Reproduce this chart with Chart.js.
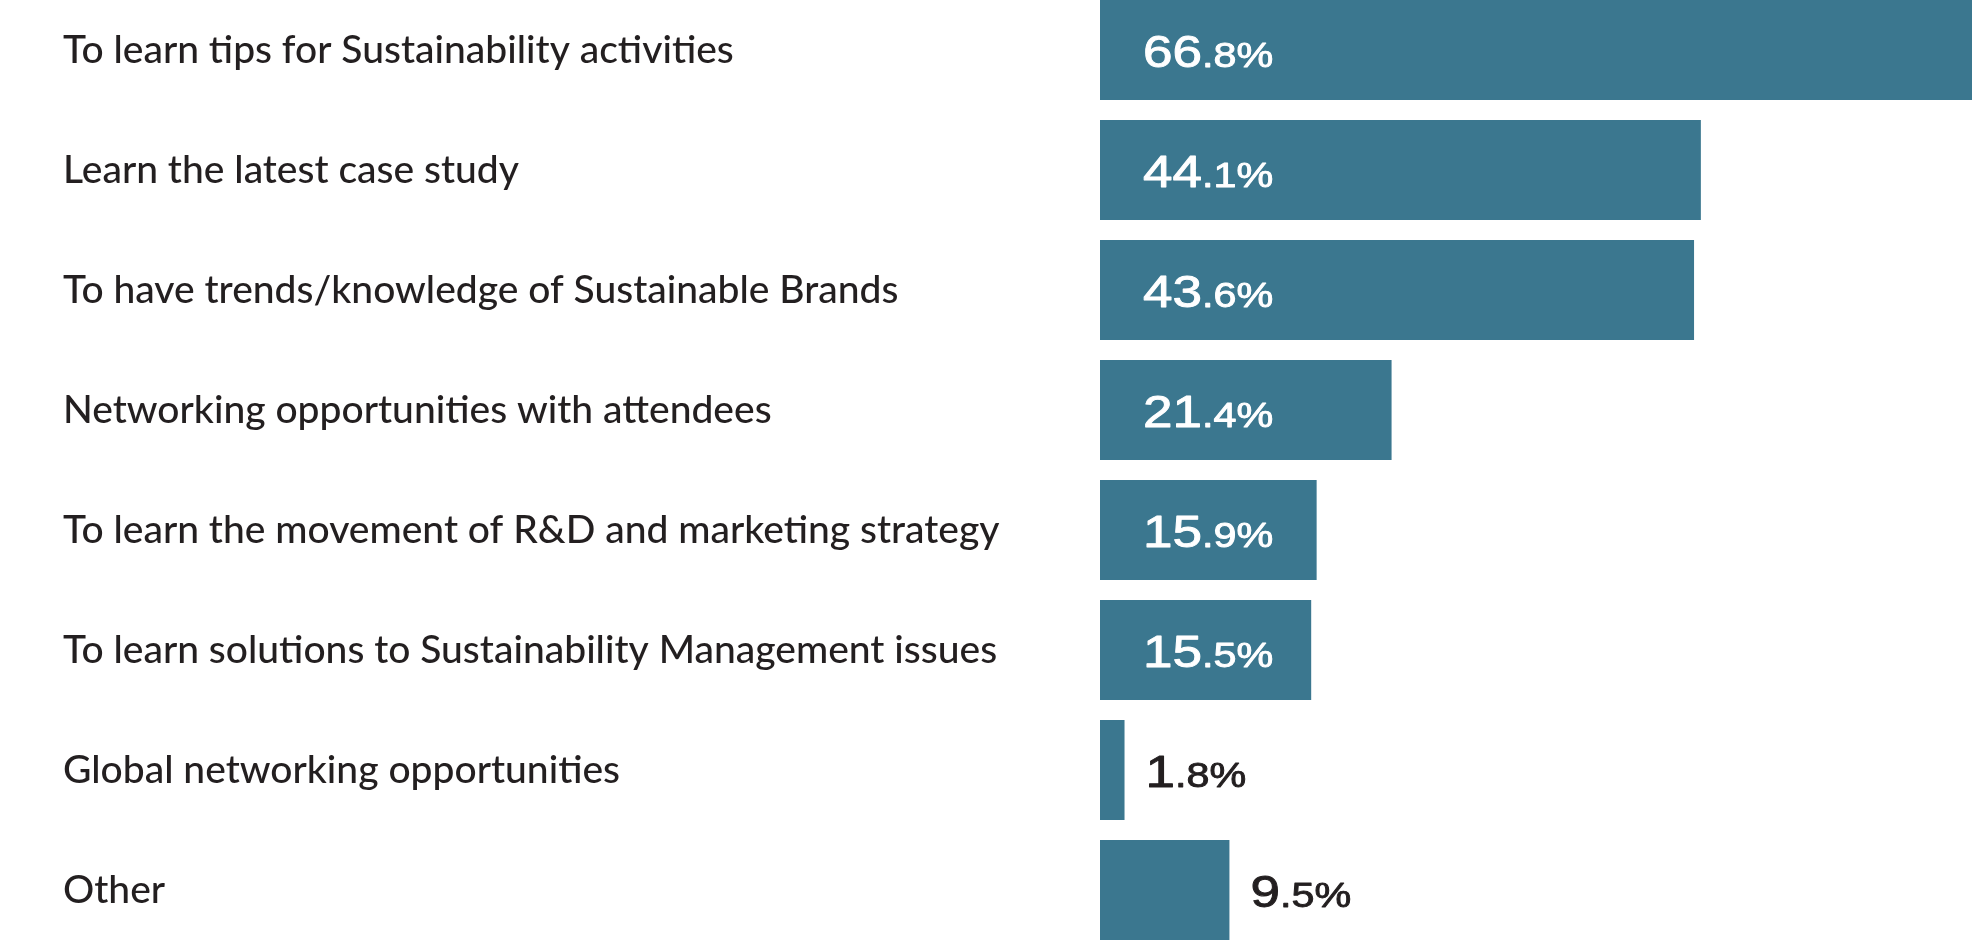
<!DOCTYPE html>
<html lang="en">
<head>
  <meta charset="UTF-8" />
  <title>Reasons for attending</title>
  <style>
    html, body { margin: 0; padding: 0; background: #fff; overflow: hidden; }
    #wrap { position: absolute; left: 0; top: -10px; width: 1972px; height: 960px; }
  </style>
</head>
<body>
  <div id="wrap"><canvas id="grafico"></canvas></div>

  <script src="https://cdn.jsdelivr.net/npm/chart.js"></script>
  <script>
    // Data
    const categorias = [
      'To learn tips for Sustainability activities',
      'Learn the latest case study',
      'To have trends/knowledge of Sustainable Brands',
      'Networking opportunities with attendees',
      'To learn the movement of R&D and marketing strategy',
      'To learn solutions to Sustainability Management issues',
      'Global networking opportunities',
      'Other'
    ];
    const percentuais = [66.8, 44.1, 43.6, 21.4, 15.9, 15.5, 1.8, 9.5];

    const corBarra = '#3b778f';
    const corTexto = '#231f20';
    const fonteValor = '"Liberation Sans", Arial, sans-serif';

    // value labels: big integer part, smaller ".d%" part, slightly widened
    const rotulos = {
      id: 'rotulos',
      afterDatasetsDraw(chart) {
        const ctx = chart.ctx;
        const meta = chart.getDatasetMeta(0);
        const sx = 1.18;
        meta.data.forEach((bar, i) => {
          const v = percentuais[i];
          const partes = v.toFixed(1).split('.');
          const grande = partes[0];
          const pequeno = '.' + partes[1] + '%';
          const dentro = v > 10;
          const x0 = dentro ? bar.base + 43 : bar.x + 21;
          const y = bar.y + 17;
          const cor = dentro ? '#ffffff' : corTexto;
          ctx.save();
          ctx.translate(x0, y);
          ctx.scale(sx, 1);
          ctx.textBaseline = 'alphabetic';
          ctx.textAlign = 'left';
          ctx.fillStyle = cor;
          ctx.strokeStyle = cor;
          ctx.lineWidth = 0.9;
          ctx.lineJoin = 'round';
          ctx.font = '45px ' + fonteValor;
          ctx.fillText(grande, 0, 0);
          ctx.strokeText(grande, 0, 0);
          const w = ctx.measureText(grande).width;
          ctx.font = '35px ' + fonteValor;
          ctx.fillText(pequeno, w, 0);
          ctx.strokeText(pequeno, w, 0);
          ctx.restore();
        });
      }
    };

    function desenhar() {
      new Chart(document.getElementById('grafico'), {
        type: 'bar',
        data: {
          labels: categorias,
          datasets: [{
            data: percentuais,
            backgroundColor: corBarra,
            borderWidth: 0,
            categoryPercentage: 1,
            barPercentage: 100 / 120
          }]
        },
        options: {
          indexAxis: 'y',
          responsive: true,
          maintainAspectRatio: false,
          animation: false,
          layout: { padding: { left: 63, right: 0, top: 0, bottom: 0 } },
          plugins: {
            legend: { display: false },
            tooltip: { enabled: false }
          },
          scales: {
            x: { display: false, min: 0, max: 64 },
            y: {
              grid: { display: false },
              border: { display: false },
              ticks: {
                crossAlign: 'far',
                padding: 0,
                color: corTexto,
                font: { family: 'Lato', size: 39, weight: '500' }
              },
              afterFit(scale) {
                scale.width = 1100 - 63;
                scale.paddingTop = 0;
                scale.paddingBottom = 0;
              }
            }
          }
        },
        plugins: [rotulos]
      });
    }

    Promise.all([
      document.fonts.load('45px "Liberation Sans"'),
      document.fonts.load('500 39px Lato')
    ]).then(desenhar, desenhar);
  </script>
</body>
</html>
